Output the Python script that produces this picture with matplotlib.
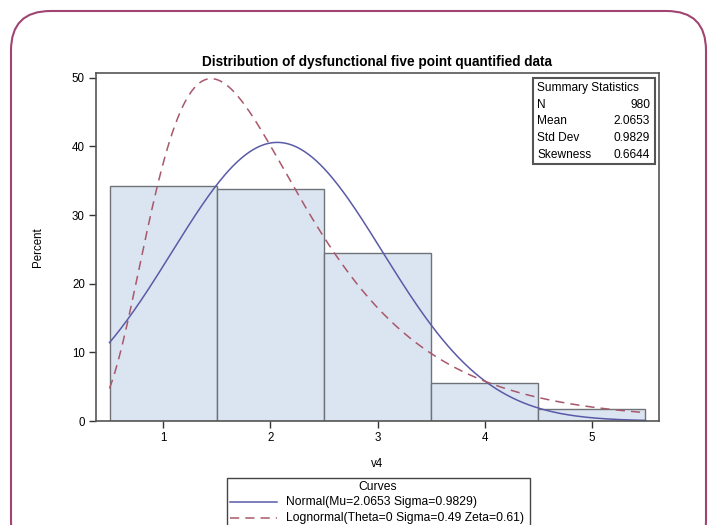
import numpy as np
import matplotlib
import matplotlib.pyplot as plt
from matplotlib.patches import FancyBboxPatch, Rectangle
from matplotlib.lines import Line2D

matplotlib.rcParams.update({'font.family': ['Liberation Sans', 'DejaVu Sans'], 'font.size': 8})

# histogram of v4 (percent per category)
categories = [1, 2, 3, 4, 5]
percents   = [34.3, 33.8, 24.5, 5.5, 1.75]

# fitted curve parameters (from the legend)
mu, sigma_n = 2.0653, 0.9829
theta, sigma_ln, zeta = 0.0, 0.49, 0.61

stat_names  = ['N', 'Mean', 'Std Dev', 'Skewness']
stat_values = ['980', '2.0653', '0.9829', '0.6644']

bar_fill  = '#dbe5f1'
bar_edge  = '#6f7378'
c_normal  = '#5a5aa8'
c_lognorm = '#a8586a'

fig = plt.figure(figsize=(7.17, 5.25), dpi=100)
ax = fig.add_axes([96/717, 1-421/525, (659-96)/717, (421-73)/525])

ax.bar(categories, percents, width=1.0, color=bar_fill, edgecolor=bar_edge, linewidth=1.0)

x = np.linspace(0.5, 5.5, 400)
normal = 100*np.exp(-0.5*((x-mu)/sigma_n)**2)/(sigma_n*np.sqrt(2*np.pi))
lognorm = 100*np.exp(-0.5*((np.log(x-theta)-zeta)/sigma_ln)**2)/((x-theta)*sigma_ln*np.sqrt(2*np.pi))
ax.plot(x, normal, color=c_normal, lw=1.1)
ax.plot(x, lognorm, color=c_lognorm, lw=1.1, dashes=(6, 4))

ax.set_xlim(0.374, 5.626)
ax.set_ylim(0, 50.7)
ax.set_xticks(categories)
ax.set_yticks([0, 10, 20, 30, 40, 50])
ax.tick_params(direction='out', length=5, width=1, color='#333333', labelsize=8.3, pad=3)
for s in ax.spines.values():
    s.set_color('#555555')
    s.set_linewidth(1.2)
ax.set_xlabel('v4', fontsize=8.3, labelpad=10)
ax.set_ylabel('Percent', fontsize=8.3, labelpad=20)
ax.set_title('Distribution of dysfunctional five point quantified data', fontsize=9.8, fontweight='bold', pad=5)

# summary statistics box
px = lambda v: (v - 96)/(659-96)
py = lambda v: (421 - v)/(421-73)
ax.add_patch(Rectangle((px(533), py(164)), px(655)-px(533), py(78)-py(164), transform=ax.transAxes,
                       fill=False, edgecolor='#555555', lw=1.5, zorder=5))
ax.text(px(537), py(88), 'Summary Statistics', transform=ax.transAxes, va='center', ha='left', fontsize=8.6)
for i, (n, v) in enumerate(zip(stat_names, stat_values)):
    yy = py(104.5 + i*16.8)
    ax.text(px(537), yy, n, transform=ax.transAxes, va='center', ha='left', fontsize=8.6)
    ax.text(px(650), yy, v, transform=ax.transAxes, va='center', ha='right', fontsize=8.6)

# legend box (bottom cut off by the figure edge)
fx = lambda v: v/717
fy = lambda v: 1 - v/525
fig.patches.append(Rectangle((fx(227), fy(535)), fx(530)-fx(227), fy(478)-fy(535), transform=fig.transFigure,
                             fill=False, edgecolor='#444444', lw=1.0))
fig.text(fx(378), fy(487), 'Curves', ha='center', va='center', fontsize=8.7)
fig.lines.append(Line2D([fx(230), fx(277)], [fy(502), fy(502)], transform=fig.transFigure, color=c_normal, lw=1.1))
fig.text(fx(286), fy(502), 'Normal(Mu=2.0653 Sigma=0.9829)', ha='left', va='center', fontsize=8.7)
fig.lines.append(Line2D([fx(230), fx(277)], [fy(518), fy(518)], transform=fig.transFigure, color=c_lognorm, lw=1.1,
                        dashes=(6, 4)))
fig.text(fx(286), fy(518), 'Lognormal(Theta=0 Sigma=0.49 Zeta=0.61)', ha='left', va='center', fontsize=8.7)

# rounded outer frame
fig.patches.append(FancyBboxPatch((fx(11), fy(560)), fx(706)-fx(11), fy(11)-fy(560),
                                  boxstyle='round,pad=0,rounding_size=0.055', transform=fig.transFigure,
                                  fill=False, edgecolor='#a04572', lw=1.5, mutation_aspect=717/525))

fig.savefig('out.png', dpi=100)
